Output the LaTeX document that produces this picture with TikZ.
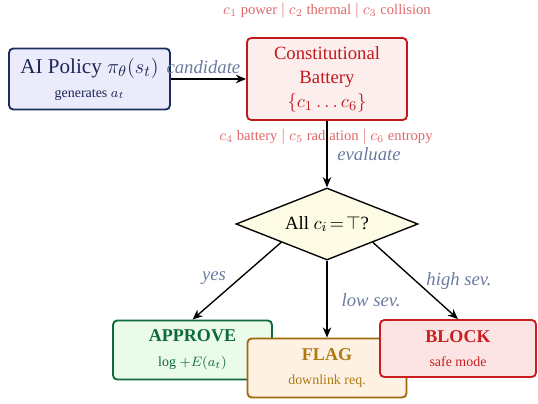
\documentclass[tikz,border=0pt]{standalone}
\usepackage{fontspec}
\setmainfont{Liberation Serif}
\usetikzlibrary{arrows.meta,shapes.geometric}
\definecolor{labc}{RGB}{108,122,160}
\definecolor{consc}{RGB}{222,104,104}
\definecolor{aiborder}{RGB}{26,46,94}
\definecolor{aifill}{RGB}{235,235,251}
\definecolor{aitext}{RGB}{26,38,84}
\definecolor{batborder}{RGB}{192,26,28}
\definecolor{batfill}{RGB}{253,238,238}
\definecolor{apborder}{RGB}{14,106,58}
\definecolor{apfill}{RGB}{234,251,234}
\definecolor{flborder}{RGB}{160,104,12}
\definecolor{flfill}{RGB}{253,241,227}
\definecolor{fltext}{RGB}{176,120,16}
\definecolor{blborder}{RGB}{200,30,30}
\definecolor{blfill}{RGB}{253,228,228}
\definecolor{dmfill}{RGB}{253,251,228}
\def\pxu{0.5882pt}
\newcommand{\fmain}{\fontsize{11}{13}\selectfont}
\newcommand{\fbig}{\fontsize{12.4}{14}\selectfont}
\newcommand{\fsub}{\fontsize{8.2}{10}\selectfont}
\newcommand{\fcons}{\fontsize{8.6}{10}\selectfont}
\newcommand{\fhead}{\fontsize{10.6}{12}\selectfont\bfseries}
\tikzset{
  box/.style={draw, rounded corners=2.5pt, line width=1.1pt, align=center, inner sep=0pt},
  arr/.style={-{Stealth[length=6pt,width=5pt]}, line width=0.8pt},
  lab/.style={font=\fmain\itshape, text=labc, inner sep=0pt},
  cons/.style={font=\fcons, text=consc, inner sep=0pt},
}
\begin{document}
\begin{tikzpicture}[x=\pxu,y=-\pxu]
\useasboundingbox (0,0) rectangle (538,403);
\node[box, draw=aiborder, fill=aifill, text=aitext, minimum width=161*\pxu, minimum height=61*\pxu]
  (ai) at (89.5,79) {\fbig AI Policy $\pi_\theta(s_t)$\\[2pt] \fsub generates $a_t$};
\node[box, draw=batborder, fill=batfill, text=batborder, font=\fmain, minimum width=160*\pxu, minimum height=82*\pxu]
  (bat) at (327,79) {Constitutional\\[1.2pt] Battery\\[1.2pt] $\{c_1 \ldots c_6\}$};
\node[cons] (top) at (327,11) {$c_1$ power $\mid$ $c_2$ thermal $\mid$ $c_3$ collision};
\node[cons] (bot) at (326,137) {$c_4$ battery $\mid$ $c_5$ radiation $\mid$ $c_6$ entropy};
\node[diamond, draw, line width=0.8pt, fill=dmfill, aspect=2.5, inner sep=0pt, font=\fmain,
  minimum width=182*\pxu, minimum height=72*\pxu] (dec) at (327,224) {All $c_i\!=\!\top$?};
\node[box, draw=apborder, fill=apfill, text=apborder, minimum width=159*\pxu, minimum height=59*\pxu]
  (ap) at (192.5,350) {\fhead APPROVE\\[2.5pt] \fsub log $+E(a_t)$};
\node[box, draw=flborder, fill=flfill, text=fltext, minimum width=159*\pxu, minimum height=59*\pxu]
  (fl) at (327,368) {\fhead FLAG\\[2.5pt] \fsub downlink req.};
\node[box, draw=blborder, fill=blfill, text=blborder, minimum width=156*\pxu, minimum height=57*\pxu]
  (bl) at (458,348.5) {\fhead BLOCK\\[2.5pt] \fsub safe mode};
\draw[arr] (ai) -- node[lab, above=3pt, xshift=-3pt] (cand) {candidate} (bat);
\draw[arr] (bat) -- (dec.north);
\node[lab, anchor=west] (ev) at (337,154) {evaluate};
\draw[arr] (dec.south west) -- (ap.north);
\draw[arr] (dec.south) -- (fl.north);
\draw[arr] (dec.south east) -- (bl.north);
\node[lab] (yes) at (214,278) {yes};
\node[lab] (low) at (371,300) {low sev.};
\node[lab] (high) at (459,281) {high sev.};
\end{tikzpicture}
\end{document}
